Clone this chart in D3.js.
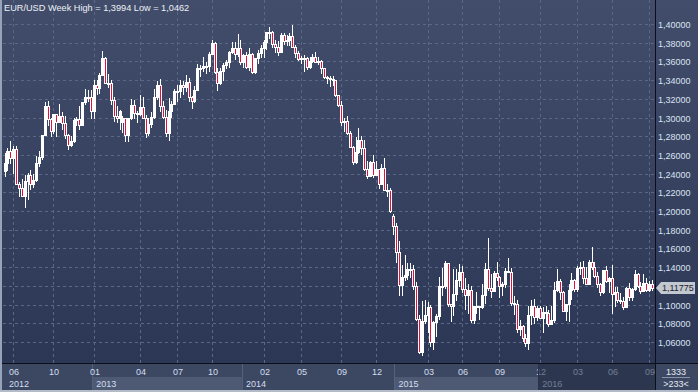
<!DOCTYPE html>
<html><head><meta charset="utf-8">
<script src="https://cdn.jsdelivr.net/npm/d3@7"></script>
<style>body{margin:0;background:#2e3a57;overflow:hidden}svg{display:block}</style>
</head><body><svg id="c" width="698" height="392"></svg>
<script>
// Weekly EUR/USD candles [open, high, low, close]
const w2012 = [
[1.2433,1.2625,1.2370,1.2518],[1.2518,1.2671,1.2440,1.2640],[1.2640,1.2748,1.2519,1.2570],[1.2570,1.2692,1.2406,1.2660],
[1.2660,1.2692,1.2288,1.2290],[1.2290,1.2315,1.2163,1.2245],[1.2245,1.2340,1.2160,1.2160],[1.2160,1.2390,1.2042,1.2320],
[1.2320,1.2405,1.2132,1.2387],[1.2387,1.2443,1.2240,1.2290],[1.2290,1.2400,1.2260,1.2335],[1.2335,1.2587,1.2320,1.2515],
[1.2515,1.2637,1.2478,1.2577],[1.2577,1.2815,1.2560,1.2815],[1.2815,1.3169,1.2815,1.3125],[1.3125,1.3172,1.2925,1.2980],
[1.2980,1.3000,1.2802,1.2860],[1.2860,1.3040,1.2835,1.3035],[1.3035,1.3040,1.2804,1.2950],[1.2950,1.3140,1.2950,1.3020],
[1.3020,1.3054,1.2882,1.2940],[1.2940,1.3020,1.2780,1.2810],[1.2810,1.2829,1.2661,1.2705],[1.2705,1.2800,1.2692,1.2745],
[1.2745,1.2990,1.2740,1.2975],[1.2975,1.3010,1.2920,1.2985],[1.2985,1.3127,1.2877,1.2925],[1.2925,1.3167,1.2925,1.3165],
[1.3165,1.3308,1.3150,1.3220],[1.3220,1.3290,1.3180,1.3215],[1.3215,1.3294,1.3000,1.3065]
];
const w2013 = [
[1.3065,1.3404,1.2998,1.3345],[1.3345,1.3403,1.3255,1.3315],[1.3315,1.3480,1.3262,1.3460],[1.3460,1.3711,1.3455,1.3640],
[1.3640,1.3645,1.3365,1.3365],[1.3365,1.3470,1.3330,1.3365],[1.3365,1.3400,1.3145,1.3190],[1.3190,1.3215,1.2967,1.3020],
[1.3020,1.3120,1.2955,1.3000],[1.3000,1.3080,1.2880,1.3075],[1.2950,1.3020,1.2840,1.2990],[1.2990,1.3000,1.2745,1.2815],
[1.2815,1.3000,1.2745,1.2995],[1.2995,1.3200,1.2980,1.3130],[1.3130,1.3190,1.2995,1.3050],[1.3050,1.3070,1.2955,1.3035],
[1.3035,1.3243,1.3030,1.3115],[1.3115,1.3215,1.2990,1.2995],[1.2995,1.3030,1.2795,1.2835],[1.2835,1.2995,1.2815,1.2935],
[1.2935,1.3060,1.2900,1.3005],[1.3005,1.3305,1.3000,1.3220],[1.3220,1.3390,1.3200,1.3345],[1.3345,1.3416,1.3075,1.3120],
[1.3120,1.3175,1.2990,1.3010],[1.3010,1.3080,1.2805,1.2830],[1.2830,1.3205,1.2755,1.3065],[1.3065,1.3180,1.3005,1.3145],
[1.3145,1.3300,1.3140,1.3280],[1.3280,1.3345,1.3175,1.3280],[1.3280,1.3400,1.3220,1.3345],[1.3345,1.3390,1.3250,1.3330],
[1.3330,1.3452,1.3280,1.3380],[1.3380,1.3420,1.3175,1.3220],[1.3220,1.3230,1.3103,1.3180],[1.3180,1.3340,1.3170,1.3295],
[1.3295,1.3568,1.3290,1.3525],[1.3525,1.3560,1.3440,1.3525],[1.3525,1.3646,1.3500,1.3555],[1.3555,1.3590,1.3480,1.3550],
[1.3550,1.3705,1.3495,1.3680],[1.3680,1.3832,1.3675,1.3800],[1.3800,1.3805,1.3480,1.3485],[1.3485,1.3530,1.3295,1.3365],
[1.3365,1.3530,1.3360,1.3495],[1.3495,1.3580,1.3400,1.3560],[1.3560,1.3620,1.3530,1.3590],[1.3590,1.3710,1.3545,1.3705],
[1.3705,1.3810,1.3690,1.3740],[1.3740,1.3810,1.3625,1.3675],[1.3675,1.3893,1.3655,1.3740],[1.3740,1.3830,1.3570,1.3590]
];
const w2014 = [
[1.3590,1.3675,1.3540,1.3665],[1.3665,1.3700,1.3530,1.3540],[1.3540,1.3740,1.3510,1.3680],[1.3680,1.3690,1.3477,1.3485],
[1.3485,1.3640,1.3480,1.3635],[1.3635,1.3720,1.3580,1.3690],[1.3690,1.3775,1.3645,1.3740],[1.3740,1.3825,1.3645,1.3805],
[1.3805,1.3915,1.3735,1.3915],[1.3915,1.3967,1.3845,1.3910],[1.3910,1.3930,1.3750,1.3790],[1.3790,1.3825,1.3705,1.3750],
[1.3750,1.3815,1.3673,1.3705],[1.3705,1.3905,1.3700,1.3885],[1.3885,1.3905,1.3790,1.3815],[1.3815,1.3880,1.3780,1.3830],
[1.3830,1.3905,1.3780,1.3870],[1.3870,1.3994,1.3820,1.3755],[1.3755,1.3780,1.3650,1.3695],[1.3695,1.3710,1.3615,1.3630],
[1.3630,1.3655,1.3585,1.3635],[1.3635,1.3670,1.3502,1.3640],[1.3640,1.3650,1.3520,1.3540],[1.3540,1.3645,1.3525,1.3605],
[1.3605,1.3675,1.3590,1.3645],[1.3645,1.3700,1.3590,1.3595],[1.3595,1.3650,1.3575,1.3605],[1.3605,1.3620,1.3475,1.3525],
[1.3525,1.3525,1.3420,1.3430],[1.3430,1.3445,1.3365,1.3425],[1.3425,1.3445,1.3335,1.3410],[1.3410,1.3445,1.3345,1.3400],
[1.3400,1.3405,1.3225,1.3240],[1.3240,1.3245,1.3125,1.3130],[1.3130,1.3175,1.2920,1.2950],[1.2950,1.2995,1.2860,1.2960],
[1.2960,1.3020,1.2825,1.2830],[1.2830,1.2860,1.2680,1.2685],[1.2685,1.2700,1.2500,1.2520],[1.2520,1.2790,1.2510,1.2630],
[1.2630,1.2887,1.2620,1.2760],[1.2760,1.2800,1.2615,1.2670],[1.2670,1.2760,1.2440,1.2450],[1.2450,1.2530,1.2358,1.2380],
[1.2380,1.2535,1.2375,1.2525],[1.2525,1.2600,1.2360,1.2390],[1.2390,1.2530,1.2385,1.2450],[1.2450,1.2455,1.2245,1.2290],
[1.2290,1.2500,1.2285,1.2465],[1.2465,1.2570,1.2220,1.2225],[1.2225,1.2290,1.2165,1.2225],[1.2225,1.2250,1.1995,1.2000]
];
const w2015 = [
[1.1950,1.1970,1.1755,1.1840],[1.1840,1.1870,1.1460,1.1565],[1.1565,1.1680,1.1098,1.1205],[1.1205,1.1425,1.1100,1.1290],
[1.1290,1.1535,1.1265,1.1315],[1.1315,1.1450,1.1270,1.1385],[1.1385,1.1450,1.1300,1.1380],[1.1380,1.1420,1.1170,1.1195],
[1.1195,1.1245,1.0840,1.0845],[1.0845,1.0890,1.0485,1.0495],[1.0495,1.1040,1.0462,1.0820],[1.0820,1.1050,1.0800,1.0890],
[1.0890,1.1030,1.0710,1.0970],[1.0970,1.1000,1.0560,1.0600],[1.0600,1.0820,1.0520,1.0810],[1.0810,1.0900,1.0660,1.0875],
[1.0875,1.1290,1.0845,1.1200],[1.1200,1.1390,1.1100,1.1200],[1.1200,1.1466,1.1175,1.1445],[1.1445,1.1450,1.0980,1.1010],
[1.1010,1.1010,1.0820,1.0990],[1.0990,1.1385,1.0885,1.1110],[1.1110,1.1385,1.1050,1.1260],[1.1260,1.1436,1.1200,1.1350],
[1.1350,1.1410,1.1135,1.1165],[1.1165,1.1280,1.0955,1.1105],[1.1105,1.1215,1.0915,1.1160],[1.1160,1.1200,1.0810,1.0830],
[1.0830,1.0985,1.0808,1.0985],[1.0985,1.1130,1.0915,1.0985],[1.0985,1.0990,1.0850,1.0970],[1.0970,1.1215,1.0960,1.1105],
[1.1105,1.1440,1.1015,1.1385],[1.1385,1.1714,1.1155,1.1180],[1.1180,1.1330,1.1085,1.1150],[1.1150,1.1355,1.1150,1.1335],
[1.1335,1.1460,1.1260,1.1300],[1.1300,1.1310,1.1085,1.1195],[1.1195,1.1245,1.1105,1.1215],[1.1215,1.1390,1.1185,1.1355],
[1.1355,1.1495,1.1345,1.1350],[1.1350,1.1390,1.0995,1.1015],[1.1015,1.1095,1.0895,1.1005],[1.1005,1.1045,1.0705,1.0740],
[1.0740,1.0830,1.0675,1.0770],[1.0770,1.0780,1.0615,1.0645],[1.0645,1.0690,1.0557,1.0590],[1.0590,1.0980,1.0522,1.0885],
[1.0885,1.1045,1.0795,1.0990],[1.0990,1.1060,1.0805,1.0865],[1.0865,1.0990,1.0835,1.0965],[1.0965,1.0990,1.0855,1.0860]
];
const w2016 = [
[1.0860,1.0970,1.0710,1.0920],[1.0920,1.0990,1.0805,1.0915],[1.0915,1.0940,1.0775,1.0795],[1.0795,1.0985,1.0790,1.0830],
[1.0830,1.1245,1.0810,1.1155],[1.1155,1.1376,1.1150,1.1255],[1.1255,1.1275,1.1065,1.1130],[1.1130,1.1150,1.0930,1.0935],
[1.0935,1.1010,1.0835,1.1005],[1.1005,1.1220,1.0822,1.1155],[1.1155,1.1340,1.1055,1.1265],[1.1265,1.1275,1.1145,1.1165],
[1.1165,1.1409,1.1145,1.1395],[1.1395,1.1455,1.1330,1.1400],[1.1400,1.1465,1.1235,1.1280],[1.1280,1.1400,1.1215,1.1225],
[1.1225,1.1475,1.1220,1.1455],[1.1455,1.1616,1.1385,1.1400],[1.1400,1.1460,1.1300,1.1310],[1.1310,1.1350,1.1185,1.1225],
[1.1225,1.1230,1.1098,1.1130],[1.1130,1.1375,1.1125,1.1365],[1.1365,1.1415,1.1245,1.1250],[1.1250,1.1300,1.1130,1.1280],
[1.1280,1.1428,1.0912,1.1115],[1.1115,1.1185,1.0990,1.1135],[1.1135,1.1185,1.1030,1.1050],[1.1050,1.1120,1.1020,1.1040],
[1.1040,1.1080,1.0952,1.0975],[1.0975,1.1186,1.0970,1.1175],[1.1175,1.1235,1.1045,1.1085],[1.1085,1.1175,1.1045,1.1165],
[1.1165,1.1366,1.1160,1.1325],[1.1325,1.1340,1.1190,1.1200],[1.1200,1.1240,1.1122,1.1150],[1.1150,1.1327,1.1145,1.1235],
[1.1235,1.1280,1.1150,1.1155],[1.1155,1.1250,1.1150,1.1225],[1.1225,1.1260,1.1160,1.11775]
];
const yTicks = [1.06,1.08,1.10,1.12,1.14,1.16,1.18,1.20,1.22,1.24,1.26,1.28,1.30,1.32,1.34,1.36,1.38,1.40];
// month tick labels at candle index
const monthTickIdx = [3,17,31,47,60,72,90,103,117,129,147,159,172,186,199,211,224];
const monthTickLbl = ["06","10","01","04","07","10","02","05","09","12","03","06","09","12","03","06","09"];
const yearStartIdx = [0,31,83,136,186];
const yearLbl = ["2012","2013","2014","2015","2016"];
const lastPrice = 1.11775;
const titleText = "EUR/USD Week High = 1,3994 Low = 1,0462";
const counterTop = "1333", counterBottom = ">233<";

const data = [].concat(w2012,w2013,w2014,w2015,w2016).map((d,i)=>({i,o:d[0],h:d[1],l:d[2],c:d[3]}));
const W=698,H=392,L=3,R=655,B=363;
const svg = d3.select("#c");
const x = d3.scaleLinear().domain([0,data.length-1]).range([4.5,652]);
const y = d3.scaleLinear().domain([1.06,1.40]).range([342,24]);
const step = x(1)-x(0);
const fmt = d3.formatLocale({decimal:",",thousands:".",grouping:[3],currency:["",""]}).format(".5f");
const font = "'Liberation Sans', Arial, sans-serif";

const defs = svg.append("defs");
const g1 = defs.append("linearGradient").attr("id","bg").attr("x1",0).attr("y1",0).attr("x2",0).attr("y2",1);
g1.append("stop").attr("offset","0%").attr("stop-color","#414d6a");
g1.append("stop").attr("offset","100%").attr("stop-color","#2b3755");
defs.append("clipPath").attr("id","pc").append("rect").attr("x",L).attr("y",0).attr("width",R-L).attr("height",B);

svg.append("rect").attr("x",0).attr("y",0).attr("width",W).attr("height",B).attr("fill","url(#bg)");
// bottom axis area
svg.append("rect").attr("x",0).attr("y",B).attr("width",W).attr("height",H-B).attr("fill","#3c4862");
// year bands
const yb = yearStartIdx.map((s,k)=>({k, x0: k===0?L:x(s)-step/2, x1: k<yearStartIdx.length-1? x(yearStartIdx[k+1])-step/2 : R, lbl: yearLbl[k]}));
svg.selectAll(".yb").data(yb).join("rect")
  .attr("x",d=>d.x0).attr("y",377).attr("width",d=>d.x1-d.x0).attr("height",13)
  .attr("fill",d=>d.k%2===1?"#4e5a74":"#3c4862");
svg.selectAll(".ysep").data(yb.slice(1)).join("line")
  .attr("x1",d=>Math.round(d.x0)+0.5).attr("x2",d=>Math.round(d.x0)+0.5).attr("y1",B).attr("y2",390)
  .attr("stroke","#55617a").attr("stroke-width",1);

// grid
const grid = svg.append("g").attr("stroke","#5a6785").attr("stroke-dasharray","3,3").attr("stroke-width",1);
grid.selectAll("line.h").data(yTicks).join("line").attr("class","h")
  .attr("x1",L).attr("x2",R).attr("y1",d=>Math.round(y(d))+0.5).attr("y2",d=>Math.round(y(d))+0.5);
grid.selectAll("line.v").data(monthTickIdx).join("line").attr("class","v")
  .attr("y1",0).attr("y2",B).attr("x1",d=>Math.round(x(d))+0.5).attr("x2",d=>Math.round(x(d))+0.5);

// candles
const cg = svg.append("g").attr("clip-path","url(#pc)");
const cs = cg.selectAll("g.c").data(data).join("g").attr("class","c");
cs.append("line")
  .attr("x1",d=>Math.round(x(d.i))+0.5).attr("x2",d=>Math.round(x(d.i))+0.5)
  .attr("y1",d=>Math.round(y(d.h))).attr("y2",d=>Math.round(y(d.l))+1)
  .attr("stroke","#ffffff").attr("stroke-width",1);
cs.append("rect")
  .attr("x",d=>Math.round(x(d.i))-0.5).attr("width",2)
  .attr("y",d=>Math.round(y(Math.max(d.o,d.c)))+0.5)
  .attr("height",d=>Math.max(1,Math.round(y(Math.min(d.o,d.c)))-Math.round(y(Math.max(d.o,d.c)))))
  .attr("fill",d=>d.c<d.o?"#e3103c":"#ffffff").attr("stroke","#ffffff").attr("stroke-width",1);

// frame lines
svg.append("line").attr("x1",R+0.5).attr("x2",R+0.5).attr("y1",0).attr("y2",390).attr("stroke","#0b0f18");
svg.append("line").attr("x1",0).attr("x2",W).attr("y1",B+0.5).attr("y2",B+0.5).attr("stroke","#0b0f18");

// right axis labels (the one hidden under the price tag is skipped)
const yp = y(lastPrice);
svg.append("g").selectAll("text").data(yTicks.filter(t=>Math.abs(y(t)-yp)>9)).join("text")
  .attr("x",658).attr("y",d=>Math.round(y(d))+3.5).text(d=>fmt(d))
  .attr("font-family",font).attr("font-size","9px").attr("fill","#dbe3f1");

// month labels
svg.append("g").selectAll("text").data(monthTickIdx).join("text")
  .attr("x",d=>Math.round(x(d))+1).attr("y",375).attr("text-anchor","middle")
  .text((d,k)=>monthTickLbl[k]).attr("font-family",font).attr("font-size","9px").attr("fill","#d3def0");
// year labels
svg.append("g").selectAll("text").data(yb).join("text")
  .attr("x",d=>d.k===0?d.x0+6:d.x0+4).attr("y",387).text(d=>d.lbl)
  .attr("font-family",font).attr("font-size","9px").attr("fill","#d3def0");

// navigator overlay on the bottom axis
const ovX = x(yearStartIdx[4])-step/2;
svg.append("rect").attr("x",ovX).attr("y",B+1).attr("width",R-ovX).attr("height",390-B-1).attr("fill","#1f2940").attr("opacity",0.55);
svg.append("line").attr("x1",Math.round(ovX)+0.5).attr("x2",Math.round(ovX)+0.5).attr("y1",B+1).attr("y2",390).attr("stroke","#2a3348");

// price tag
svg.append("path").attr("d",`M656,${yp} L661,${yp-6} L695,${yp-6} L695,${yp+6} L661,${yp+6} Z`).attr("fill","#c3c7cf");
svg.append("text").attr("x",662).attr("y",yp+3.5).text(fmt(lastPrice))
  .attr("font-family",font).attr("font-size","9px").attr("fill","#1d2330");

// counters
svg.append("text").attr("x",676).attr("y",375).attr("text-anchor","middle").text(counterTop)
  .attr("font-family",font).attr("font-size","9px").attr("fill","#e6ebf4");
svg.append("line").attr("x1",662).attr("x2",690).attr("y1",377.5).attr("y2",377.5).attr("stroke","#8893a8");
svg.append("text").attr("x",676).attr("y",387).attr("text-anchor","middle").text(counterBottom)
  .attr("font-family",font).attr("font-size","9px").attr("fill","#e6ebf4");

// borders
svg.append("rect").attr("x",0).attr("y",0).attr("width",2).attr("height",H).attr("fill","#97a3b8");
svg.append("rect").attr("x",0).attr("y",390).attr("width",W).attr("height",2).attr("fill","#b3bbc9");

// title
svg.append("text").attr("x",4).attr("y",11).text(titleText)
  .attr("font-family",font).attr("font-size","9.2px").attr("fill","#eef1f7");
</script></body></html>
